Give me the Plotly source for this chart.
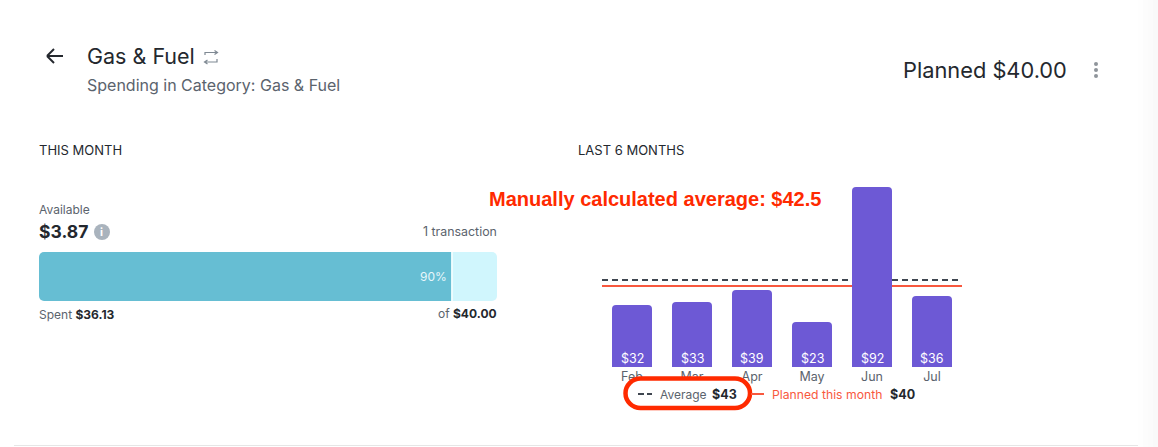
import plotly.graph_objects as go

W = 1158
H = 447

# last 6 months chart
months = ["Feb", "Mar", "Apr", "May", "Jun", "Jul"]
spending = [31.6, 33.1, 39.2, 22.9, 91.6, 36.13]
spending_labels = ["$32", "$33", "$39", "$23", "$92", "$36"]
average_level = 44.3
planned_level = 41.2

# this month progress bar, in percent of plan
spent_pct = 90
left_pct = 10

PURPLE = "#6d59d5"
TEAL = "#66bed3"
TEAL_LIGHT = "#d0f6fd"
RED = "#f8583e"
MARK = "#ff2a00"
DARK = "#24282e"
GREY = "#5b636d"
FONT = "Inter"


def px(x):
    return x / W


def py(y):
    return 1 - y / H


def label(x, y, text, size=12, color=GREY, anchor="left", font=FONT):
    fig.add_annotation(x=px(x), y=py(y), xref="paper", yref="paper", text=text, showarrow=False,
                       xanchor=anchor, yanchor="middle", borderpad=0, borderwidth=0,
                       font=dict(family=font, size=size, color=color))


def seg(x0, y0, x1, y1, color, width=2, dash="solid", layer="above"):
    fig.add_shape(type="line", xref="paper", yref="paper", x0=px(x0), y0=py(y0), x1=px(x1), y1=py(y1),
                  line=dict(color=color, width=width, dash=dash), layer=layer)


def dot(cx, cy, r, color):
    fig.add_shape(type="circle", xref="paper", yref="paper", x0=px(cx - r), y0=py(cy - r), x1=px(cx + r), y1=py(cy + r),
                  fillcolor=color, line_width=0, layer="above")


fig = go.Figure()

fig.add_trace(go.Bar(x=months, y=spending, width=2 / 3, xaxis="x", yaxis="y",
                     marker=dict(color=PURPLE, cornerradius=4, line_width=0),
                     hoverinfo="skip", showlegend=False))

# zero of this axis is the split, so only the outer ends get rounded
fig.add_trace(go.Bar(y=["m"], x=[-spent_pct], orientation="h", width=1, xaxis="x2", yaxis="y2",
                     marker=dict(color=TEAL, cornerradius=5, line_width=0), hoverinfo="skip", showlegend=False))
fig.add_trace(go.Bar(y=["m"], x=[left_pct], orientation="h", width=1, xaxis="x2", yaxis="y2",
                     marker=dict(color=TEAL_LIGHT, cornerradius=5, line_width=0), hoverinfo="skip", showlegend=False))

fig.update_layout(
    width=W, height=H, margin=dict(l=0, r=0, t=0, b=0, pad=0),
    paper_bgcolor="white", plot_bgcolor="rgba(0,0,0,0)",
    barmode="overlay",
    xaxis=dict(domain=[px(602), px(962)], range=[-0.5, 5.5], type="category", showgrid=False, zeroline=False,
               showline=False, ticks="", ticklabelstandoff=0, tickfont=dict(family=FONT, size=12.5, color=GREY)),
    yaxis=dict(domain=[py(367), py(170.5)], range=[0, 100], visible=False, showgrid=False, zeroline=False),
    xaxis2=dict(domain=[px(39), px(497)], range=[-spent_pct, left_pct], anchor="y2", visible=False,
                showgrid=False, zeroline=False),
    yaxis2=dict(domain=[py(301), py(252)], range=[-0.5, 0.5], anchor="x2", type="category", visible=False),
)

# value labels at the foot of each bar
for month, text in zip(months, spending_labels):
    fig.add_annotation(x=month, y=0, xref="x", yref="y", text=text, showarrow=False, yanchor="middle", yshift=9,
                       font=dict(family=FONT, size=12.5, color="white"))

# reference lines sit behind the bars
fig.add_shape(type="line", layer="below", xref="x domain", yref="y", x0=0, x1=1, y0=average_level, y1=average_level,
              line=dict(color="#3f4650", width=2, dash="6px,4px"))
fig.add_shape(type="line", layer="below", xref="x domain", yref="y", x0=0, x1=1, y0=planned_level, y1=planned_level,
              line=dict(color=RED, width=2))

# divider between spent and left
fig.add_shape(type="line", layer="above", xref="x2", yref="y2 domain", x0=0.2, x1=0.2, y0=0, y1=1,
              line=dict(color="white", width=1))

# card edge and the faint fade on the right
seg(14, 445.5, 1140, 445.5, "#e6e6e6", 1, layer="below")
for i, shade in enumerate(["#fefefe", "#fcfcfc", "#fbfbfb", "#f9f9f9"]):
    fig.add_shape(type="rect", xref="paper", yref="paper", x0=px(1138 + i * 5), x1=1, y0=0, y1=1,
                  fillcolor=shade, line_width=0, layer="below")

# header icons
seg(47, 56, 63, 56, DARK, 2)
seg(47, 56, 54, 49, DARK, 2)
seg(47, 56, 54, 63, DARK, 2)
fig.add_shape(type="path", xref="paper", yref="paper", layer="above",
              path=f"M {px(205)} {py(55)} L {px(205)} {py(52.5)} L {px(217)} {py(52.5)} M {px(214.5)} {py(50.5)} L {px(217.5)} {py(52.5)} L {px(214.5)} {py(54.5)} "
                   f"M {px(217)} {py(59)} L {px(217)} {py(62)} L {px(205)} {py(62)} M {px(207.5)} {py(60)} L {px(204.5)} {py(62)} L {px(207.5)} {py(64)}",
              line=dict(color="#7f8993", width=1.2))
for y in [64, 70, 76]:
    dot(1096, y, 2, "#8f959b")
dot(102, 232, 8, "#a9b3bd")

label(87, 56, "Gas &amp; Fuel", 21.5, DARK)
label(87, 85, "Spending in Category: Gas &amp; Fuel", 16, GREY)
label(903, 70, "Planned $40.00", 21.8, DARK)
label(39, 150, "THIS MONTH", 13, DARK)
label(578, 150, "LAST 6 MONTHS", 13, DARK)
label(39, 209.5, "Available", 12, GREY)
label(39, 231, "<b>$3.87</b>", 17.5, DARK)
label(102, 232, "<b>i</b>", 11, "white", anchor="center")
label(497, 232, "1 transaction", 12.4, GREY, anchor="right")
label(447, 276, "90%", 12, "#e8f7fb", anchor="right")
label(39, 314, f"Spent <b style='color:{DARK}'>$36.13</b>", 12, GREY)
label(497, 313, f"of <b style='color:{DARK}'>$40.00</b>", 12, GREY, anchor="right")

# hand drawn callout, covers the bottom of the tick labels
r = 15
k = r * 0.45
l, t, rt, b = 625.5, 378.5, 750, 408
fig.add_shape(type="path", xref="paper", yref="paper", layer="above", fillcolor="white",
              line=dict(color=MARK, width=4.5),
              path=f"M {px(l + r)} {py(t)} L {px(rt - r)} {py(t)} "
                   f"C {px(rt - k)} {py(t)} {px(rt)} {py(t + k)} {px(rt)} {py((t + b) / 2)} "
                   f"C {px(rt)} {py(b - k)} {px(rt - k)} {py(b)} {px(rt - r)} {py(b)} L {px(l + r)} {py(b)} "
                   f"C {px(l + k)} {py(b)} {px(l)} {py(b - k)} {px(l)} {py((t + b) / 2)} "
                   f"C {px(l)} {py(t + k)} {px(l + k)} {py(t)} {px(l + r)} {py(t)} Z")

# legend row
seg(638, 394, 652, 394, "#3f4650", 2, dash="6px,3px")
label(660, 394, "Average", 12, GREY)
label(712, 394, "<b>$43</b>", 12.5, DARK)
seg(751, 394, 764, 394, RED, 2)
label(772, 394, "Planned this month", 12.2, RED)
label(890, 394, "<b>$40</b>", 12.5, DARK)

label(489, 199, "<b>Manually calculated average: $42.5</b>", 20, MARK, font="Liberation Sans")

fig.write_html("out.html", config=dict(displayModeBar=False),
               post_script="document.body.style.margin='0';document.body.style.overflow='hidden';")
